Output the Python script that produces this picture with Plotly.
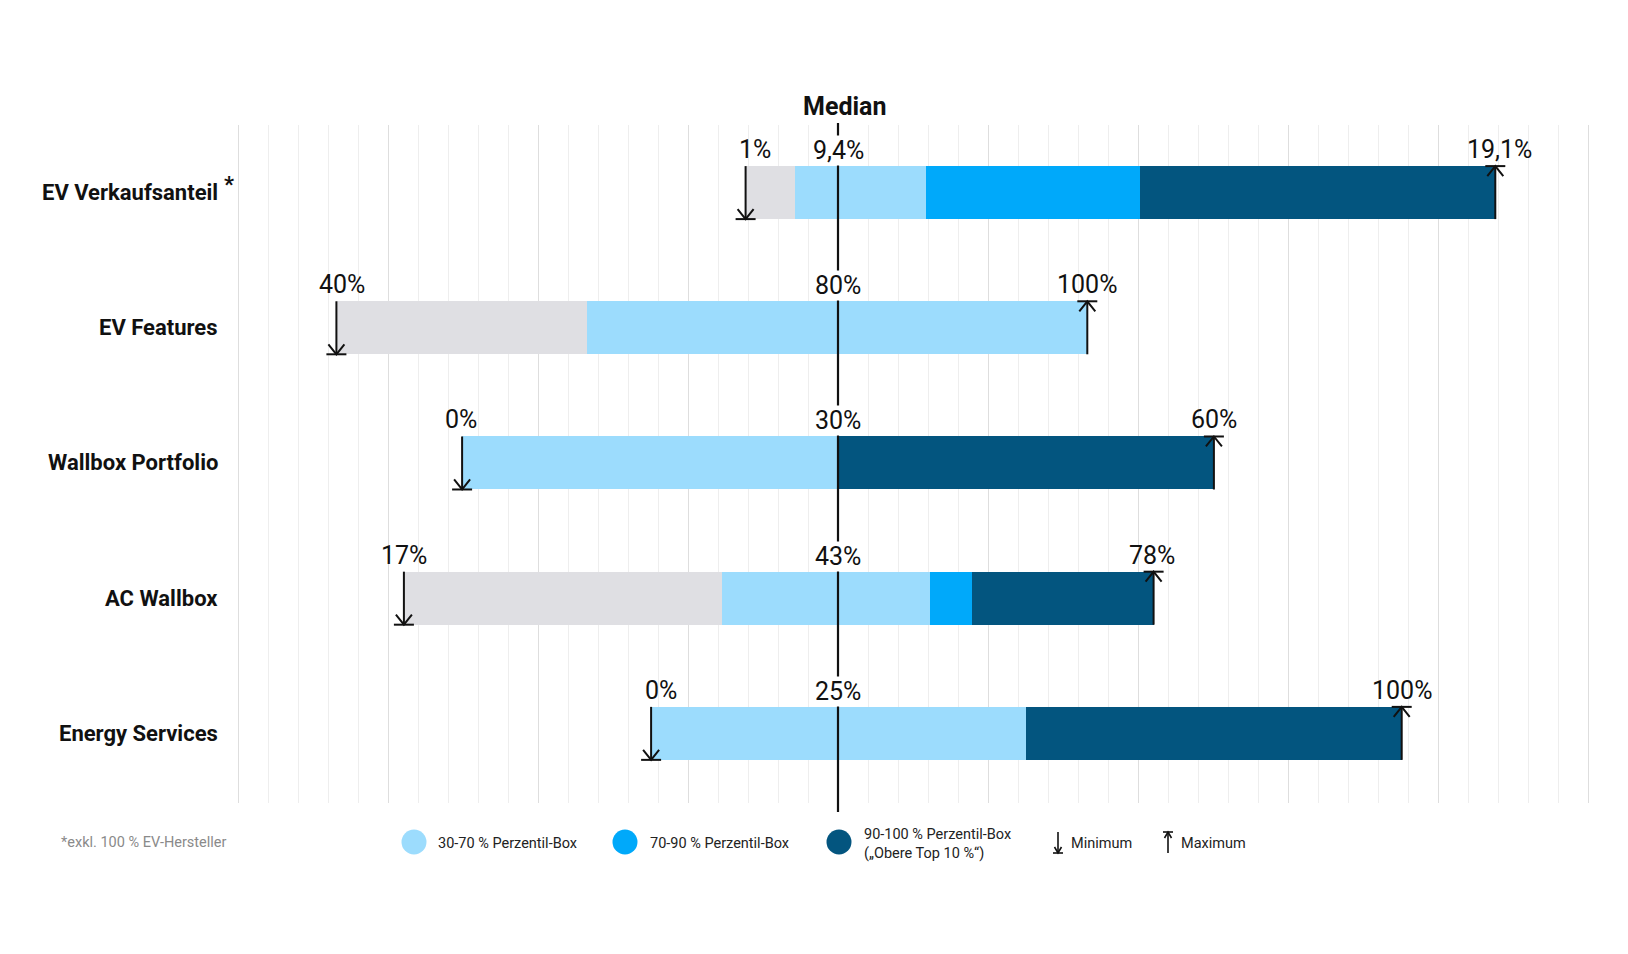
import plotly.graph_objects as go

# ---------------- data ----------------
categories = ["EV Verkaufsanteil", "EV Features", "Wallbox Portfolio", "AC Wallbox", "Energy Services"]
# segment boundaries on the schematic axis (median = 0), one per row
pos_min = [-3.08, -16.72, -12.53, -14.47, -6.23]
pos_p30 = [-1.42, -8.37, -12.53, -3.87, -6.23]
pos_p70 = [2.94, 8.31, 0.0, 3.05, 6.27]
pos_p90 = [10.07, 8.31, 0.0, 4.47, 6.27]
pos_max = [21.91, 8.31, 12.53, 10.52, 18.79]
label_min = ["1%", "40%", "0%", "17%", "0%"]
label_median = ["9,4%", "80%", "30%", "43%", "25%"]
label_max = ["19,1%", "100%", "60%", "78%", "100%"]
footnote = "*exkl. 100 % EV-Hersteller"
legend_labels = ["30-70 % Perzentil-Box", "70-90 % Perzentil-Box",
                 "90-100 % Perzentil-Box<br>(\u201eObere Top 10 %\u201c)"]

# ---------------- style ----------------
GREY, LIGHT, MID, DARK = "#dfdfe3", "#9cdcfd", "#00a9fa", "#03557f"
FONT = "Roboto"
OFF = 8                      # page body margin
W, H = 1620, 946
L, RM, T, BM = 215, 25, 117, 151
PW, PH = W - L - RM, H - T - BM
XR = [-20.5, 25.5]
YR = [4.515, -0.5]
BARW = 0.392
XPX = PW / (XR[1] - XR[0])           # px per x unit
YPX = PH / (YR[0] - YR[1])           # px per y unit
MIN_LABEL_SHIFT = [9, 6, -1, 0, 10]   # px nudges of the value labels
MAX_LABEL_SHIFT = [4, 0, 0, -2, 0]


def pxx(p):
    return (p - OFF - L) / PW


def pxy(p):
    return (H - BM - (p - OFF)) / PH


rows = list(range(len(categories)))
fig = go.Figure()

segments = [(pos_min, pos_p30, GREY), (pos_p30, pos_p70, LIGHT),
            (pos_p70, pos_p90, MID), (pos_p90, pos_max, DARK)]
for starts, ends, col in segments:
    fig.add_trace(go.Bar(
        y=rows, base=starts, x=[e - s for s, e in zip(starts, ends)],
        orientation="h", width=BARW, marker=dict(color=col, line=dict(width=0)),
        showlegend=False, hoverinfo="skip"))

# min / max arrows
hw = 8 / XPX      # arrowhead half width
hh = 10 / YPX     # arrowhead height
tw = 10 / XPX     # tick half width
for i in rows:
    yt, yb = i - BARW / 2, i + BARW / 2
    m = pos_min[i]
    fig.add_trace(go.Scatter(
        x=[m, m, None, m - hw, m, m + hw, None, m - tw, m + tw],
        y=[yt, yb, None, yb - hh, yb, yb - hh, None, yb, yb],
        mode="lines", line=dict(color="#111111", width=2), showlegend=False, hoverinfo="skip"))
    M = pos_max[i]
    fig.add_trace(go.Scatter(
        x=[M, M, None, M - hw, M, M + hw, None, M - tw, M + tw],
        y=[yb, yt, None, yt + hh, yt, yt + hh, None, yt, yt],
        mode="lines", line=dict(color="#111111", width=2), showlegend=False, hoverinfo="skip"))

VAL_FONT = dict(family=FONT, size=25, color="#111111")
annotations = []
for i in rows:
    yt = i - BARW / 2
    annotations.append(dict(x=pos_min[i], y=yt, xref="x", yref="y", text=label_min[i],
                            showarrow=False, xanchor="center", yanchor="bottom",
                            xshift=MIN_LABEL_SHIFT[i], yshift=0, font=VAL_FONT))
    annotations.append(dict(x=pos_max[i], y=yt, xref="x", yref="y", text=label_max[i],
                            showarrow=False, xanchor="center", yanchor="bottom",
                            xshift=MAX_LABEL_SHIFT[i], yshift=0, font=VAL_FONT))
    annotations.append(dict(x=0, y=yt, xref="x", yref="y", text=label_median[i],
                            showarrow=False, xanchor="center", yanchor="bottom", yshift=0,
                            bgcolor="white", borderpad=0, font=VAL_FONT))
    annotations.append(dict(x=pxx(220), y=i, xref="paper", yref="y", text="<b>%s</b>" % categories[i],
                            showarrow=False, xanchor="right", yanchor="middle",
                            font=dict(family=FONT, size=22, color="#111111")))
annotations.append(dict(x=pxx(222), y=0, xref="paper", yref="y", text="<b>*</b>", yshift=8,
                        showarrow=False, xanchor="left", yanchor="middle",
                        font=dict(family=FONT, size=22, color="#111111")))
annotations.append(dict(x=0, y=pxy(106), xref="x", yref="paper", text="<b>Median</b>",
                        showarrow=False, xanchor="center", yanchor="middle", xshift=6,
                        font=dict(family=FONT, size=25, color="#111111")))
annotations.append(dict(x=pxx(59), y=pxy(842), xref="paper", yref="paper", text=footnote,
                        showarrow=False, xanchor="left", yanchor="middle",
                        font=dict(family=FONT, size=14.5, color="#8a8a8a")))

shapes = []
# median line
shapes.append(dict(type="line", xref="x", yref="paper", x0=0, x1=0, y0=pxy(812), y1=pxy(123),
                   line=dict(color="#111111", width=2.2), layer="above"))

# legend circles + texts
LEG_FONT = dict(family=FONT, size=14.5, color="#222222")
leg_cx = [414, 625, 839]
leg_tx = [436, 648, 862]
for cx, tx, col, lab in zip(leg_cx, leg_tx, [LIGHT, MID, DARK], legend_labels):
    r = 12.5
    shapes.append(dict(type="circle", xref="paper", yref="paper",
                       x0=pxx(cx - r), x1=pxx(cx + r), y0=pxy(842 + r), y1=pxy(842 - r),
                       fillcolor=col, line=dict(width=0)))
    annotations.append(dict(x=pxx(tx), y=pxy(844), xref="paper", yref="paper", text=lab,
                            showarrow=False, xanchor="left", yanchor="middle", align="left",
                            font=LEG_FONT))


def ppath(pts):
    s = ""
    for k, (a, b) in enumerate(pts):
        s += ("M" if k == 0 else "L") + " %f,%f " % (pxx(a), pxy(b))
    return s


# minimum icon
mx = 1058
for pts in ([(mx, 832), (mx, 853)], [(mx - 3.5, 847), (mx, 853), (mx + 3.5, 847)], [(mx - 5, 853), (mx + 5, 853)]):
    shapes.append(dict(type="path", xref="paper", yref="paper", path=ppath(pts),
                       line=dict(color="#111111", width=1.6)))
annotations.append(dict(x=pxx(1069), y=pxy(843), xref="paper", yref="paper", text="Minimum",
                        showarrow=False, xanchor="left", yanchor="middle", font=LEG_FONT))
# maximum icon
Mx = 1168
for pts in ([(Mx, 832), (Mx, 853)], [(Mx - 3.5, 838), (Mx, 832), (Mx + 3.5, 838)], [(Mx - 5, 832), (Mx + 5, 832)]):
    shapes.append(dict(type="path", xref="paper", yref="paper", path=ppath(pts),
                       line=dict(color="#111111", width=1.6)))
annotations.append(dict(x=pxx(1179), y=pxy(843), xref="paper", yref="paper", text="Maximum",
                        showarrow=False, xanchor="left", yanchor="middle", font=LEG_FONT))

fig.update_layout(
    width=W, height=H, autosize=False,
    margin=dict(l=L, r=RM, t=T, b=BM, pad=0),
    paper_bgcolor="white", plot_bgcolor="white",
    barmode="overlay", bargap=0,
    xaxis=dict(range=XR, dtick=5, tick0=0, showgrid=True,
               gridcolor="#dedede", gridwidth=1.3, showticklabels=False, zeroline=False,
               showline=False, ticks="", fixedrange=True,
               minor=dict(dtick=1, tick0=0, showgrid=True, gridcolor="#eeeeee", gridwidth=1)),
    yaxis=dict(range=YR, showgrid=False, showticklabels=False, zeroline=False,
               showline=False, ticks="", fixedrange=True),
    annotations=annotations, shapes=shapes, showlegend=False,
    font=dict(family=FONT),
)

fig.write_html("out.html")
